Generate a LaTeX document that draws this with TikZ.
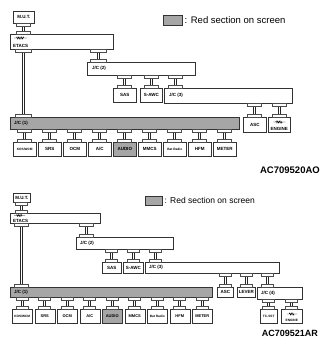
\documentclass[tikz,border=0pt]{standalone}
\usepackage{fontspec}
\setmainfont{Liberation Sans}
\usetikzlibrary{calc,decorations.pathmorphing}

% joint between two boxes: [pad half width]{upper}{lower}{x}
\newcommand{\jclink}[4][7]{%
  \coordinate (LX) at (#4,0);
  \draw[wire] ($(#2.south -| LX)+(-1.2,0)$) -- ($(#3.north -| LX)+(-1.2,0)$);
  \draw[wire] ($(#2.south -| LX)+(1.2,0)$) -- ($(#3.north -| LX)+(1.2,0)$);
  \draw[pad] ($(#2.south -| LX)+(-#1,0)$) rectangle ++(2*#1,2.5);
  \draw[pad] ($(#3.north -| LX)+(-#1,0)$) rectangle ++(2*#1,-2.5);
}
\newcommand{\tinylbl}[1]{{\fontsize{3.2}{3.5}\selectfont #1}}

\begin{document}
\begin{tikzpicture}[x=1pt, y=-1pt]

  \tikzstyle{box}=[draw=black!80, line width=0.5pt, fill=white, anchor=north west, inner sep=0pt,
                   font=\fontsize{4.5}{5}\selectfont\bfseries]
  \tikzstyle{red}=[box, fill=black!35]
  \tikzstyle{lbl}=[font=\fontsize{4.5}{5}\selectfont\bfseries, inner sep=0pt]
  \tikzstyle{wire}=[draw=black!85, line width=0.55pt]
  \tikzstyle{pad}=[draw=black!70, line width=0.45pt, fill=white]
  \tikzstyle{squig}=[line width=0.4pt, decorate, decoration={zigzag, segment length=1.6pt, amplitude=1pt, pre length=2.5pt, post length=2.5pt}]

  \useasboundingbox (0,0) rectangle (327,342);

  % ---------- upper diagram ----------
  \node[box, minimum width=21pt, minimum height=12pt] (MUTA) at (13,11) {M.U.T.};
  \node[box, minimum width=103pt, minimum height=15pt,
        label={[lbl, anchor=south west, xshift=3pt, yshift=1.5pt]south west:ETACS}] (ETACSA) at (10,34) {};
  \draw[squig] ($(ETACSA.north west)+(4,4)$) -- ++(13,0);
  \node[box, minimum width=108pt, minimum height=13pt,
        label={[lbl, anchor=west, xshift=5pt]west:J/C (2)}] (JCTWOA) at (87,62) {};
  \node[box, minimum width=23pt, minimum height=14pt] (SASA) at (113,88) {SAS};
  \node[box, minimum width=22pt, minimum height=14pt] (SAWCA) at (140,88) {S-AWC};
  \node[box, minimum width=128pt, minimum height=15pt,
        label={[lbl, anchor=west, xshift=5pt]west:J/C (3)}] (JCTHREEA) at (164,88) {};
  \node[red, minimum width=229pt, minimum height=12pt,
        label={[lbl, anchor=west, xshift=4pt]west:J/C (1)}] (JCONEA) at (10,117) {};
  \node[box, minimum width=23pt, minimum height=15pt] (ASCA) at (243,117) {ASC};
  \node[box, minimum width=22pt, minimum height=15pt,
        label={[lbl, anchor=south, yshift=2pt]south:ENGINE}] (ENGINEA) at (268,117) {};
  \draw[squig] ($(ENGINEA.north)+(-6,5)$) -- ++(12,0);

  \foreach \name/\fc/\txt [count=\i from 0] in {KOSA/white/{\tinylbl{KOS/WCM}}, SRSA/white/SRS, OCMA/white/OCM,
      ACA/white/{A/C}, AUDIOA/black!35/AUDIO, MMCSA/white/MMCS, RADIOA/white/{\tinylbl{Bat Radio}},
      HFMA/white/HFM, METERA/white/METER}
  {
    \node[box, fill=\fc, minimum width=23pt, minimum height=14pt] (\name) at (13+25*\i,142) {\txt};
    \jclink{JCONEA}{\name}{24.5+25*\i}
  }

  \jclink{MUTA}{ETACSA}{23.5}
  \jclink[8]{ETACSA}{JCONEA}{23}
  \jclink[8]{ETACSA}{JCTWOA}{98}
  \jclink{JCTWOA}{SASA}{124.5}
  \jclink{JCTWOA}{SAWCA}{151}
  \jclink{JCTWOA}{JCTHREEA}{175}
  \jclink{JCTHREEA}{ASCA}{254.5}
  \jclink{JCTHREEA}{ENGINEA}{279}

  \node[red, minimum width=19pt, minimum height=10pt] (KEYA) at (163,15) {};
  \node[anchor=west, inner sep=2pt, font=\fontsize{9.5}{10}\selectfont] (KEYTXTA) at (KEYA.east) {: Red section on screen};
  \node[anchor=east, inner sep=0pt, font=\fontsize{9.5}{10}\selectfont\bfseries] (IDA) at (320,170) {AC709520AO};

  % ---------- lower diagram ----------
  \begin{scope}[every node/.append style={font=\fontsize{4}{4.5}\selectfont\bfseries}]
  \node[box, minimum width=17pt, minimum height=9pt] (MUTB) at (13,193) {M.U.T.};
  \node[box, minimum width=90pt, minimum height=10pt,
        label={[lbl, anchor=south west, xshift=3pt, yshift=1pt]south west:ETACS}] (ETACSB) at (10,213) {};
  \draw[squig] ($(ETACSB.north west)+(4,2.5)$) -- ++(11,0);
  \node[box, minimum width=97pt, minimum height=12pt,
        label={[lbl, anchor=west, xshift=4pt]west:J/C (2)}] (JCTWOB) at (76,237) {};
  \node[box, minimum width=19pt, minimum height=11pt] (SASB) at (102,262) {SAS};
  \node[box, minimum width=20pt, minimum height=11pt] (SAWCB) at (123,262) {S-AWC};
  \node[box, minimum width=134pt, minimum height=11pt,
        label={[lbl, anchor=west, xshift=4pt]west:J/C (3)}] (JCTHREEB) at (145,262) {};
  \node[red, minimum width=202pt, minimum height=10pt,
        label={[lbl, anchor=west, xshift=4pt]west:J/C (1)}] (JCONEB) at (10,287) {};
  \node[box, minimum width=16pt, minimum height=10pt] (ASCB) at (217,287) {ASC};
  \node[box, minimum width=18pt, minimum height=10pt] (LEVERB) at (237,287) {LEVER};
  \node[box, minimum width=45pt, minimum height=12pt,
        label={[lbl, anchor=west, xshift=4pt]west:J/C (4)}] (JCFOURB) at (257,287) {};
  \node[box, minimum width=17pt, minimum height=14pt] (TCSSTB) at (260,309) {\tinylbl{TC-SST}};
  \node[box, minimum width=21pt, minimum height=14pt,
        label={[lbl, anchor=south, yshift=2pt]south:\tinylbl{ENGINE}}] (ENGINEB) at (281,309) {};
  \draw[squig] ($(ENGINEB.north)+(-5,5)$) -- ++(10,0);
  \end{scope}

  \foreach \name/\fc/\txt [count=\i from 0] in {KOSB/white/{\tinylbl{KOS/WCM}}, SRSB/white/SRS, OCMB/white/OCM,
      ACB/white/{A/C}, AUDIOB/black!35/AUDIO, MMCSB/white/MMCS, RADIOB/white/{\tinylbl{Bat Radio}},
      HFMB/white/HFM, METERB/white/METER}
  {
    \node[box, fill=\fc, minimum width=20pt, minimum height=14pt, font=\fontsize{4}{4.5}\selectfont\bfseries] (\name) at (12+22.5*\i,309) {\txt};
    \jclink[6]{JCONEB}{\name}{22+22.5*\i}
  }

  \jclink[6]{MUTB}{ETACSB}{21.5}
  \jclink[7]{ETACSB}{JCONEB}{21}
  \jclink[7]{ETACSB}{JCTWOB}{86}
  \jclink[6]{JCTWOB}{SASB}{111.5}
  \jclink[6]{JCTWOB}{SAWCB}{133}
  \jclink[6]{JCTWOB}{JCTHREEB}{155}
  \jclink[6]{JCTHREEB}{ASCB}{225}
  \jclink[6]{JCTHREEB}{LEVERB}{246}
  \jclink[6]{JCTHREEB}{JCFOURB}{267}
  \jclink[6]{JCFOURB}{TCSSTB}{268.5}
  \jclink[6]{JCFOURB}{ENGINEB}{291.5}

  \node[red, minimum width=17pt, minimum height=9pt] (KEYB) at (145,196) {};
  \node[anchor=west, inner sep=2pt, font=\fontsize{8.5}{9}\selectfont] (KEYTXTB) at (KEYB.east) {: Red section on screen};
  \node[anchor=east, inner sep=0pt, font=\fontsize{9}{10}\selectfont\bfseries] (IDB) at (318,333) {AC709521AR};

\end{tikzpicture}
\end{document}
